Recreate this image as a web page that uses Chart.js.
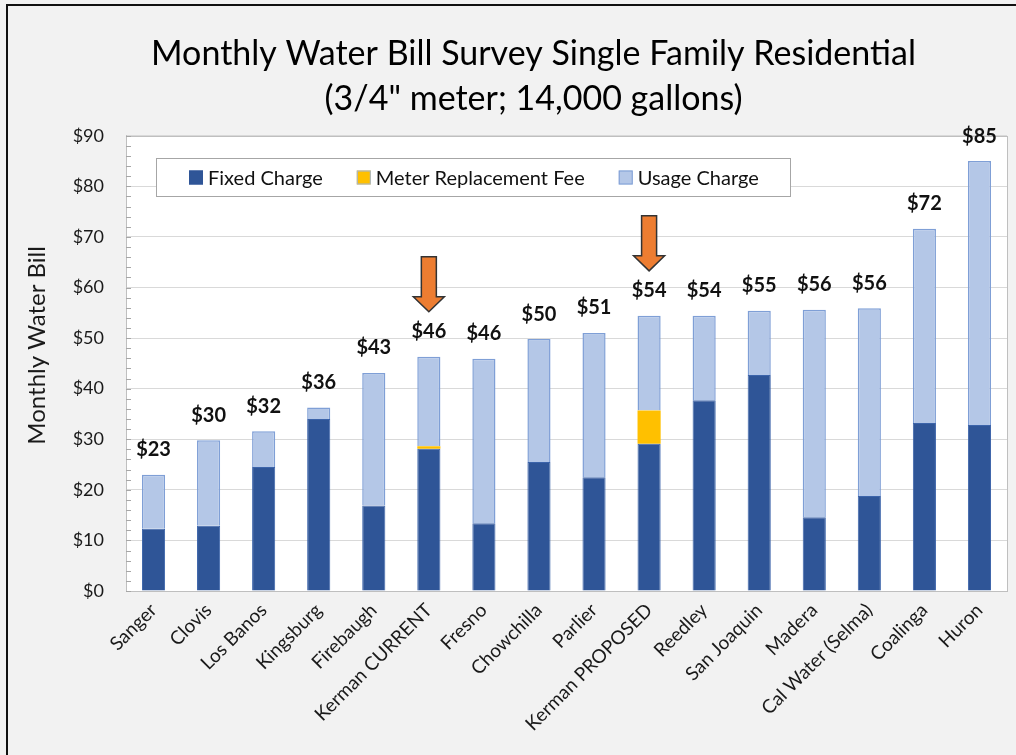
<!DOCTYPE html>
<html><head><meta charset="utf-8">
<script src="https://cdn.jsdelivr.net/npm/chart.js@4/dist/chart.umd.min.js"></script>
<style>
html,body{margin:0;padding:0;background:#f2f2f2;}
#wrap{position:relative;width:1016px;height:755px;overflow:hidden;background:#f2f2f2;}
#frame{position:absolute;left:6px;top:4px;width:1100px;height:800px;border-left:2px solid #111;border-top:2px solid #111;}
canvas{position:absolute;left:0;top:0;}
</style></head><body>
<div id="wrap"><div id="frame"></div><canvas id="c" width="1016" height="755"></canvas></div>
<script>
// ---- data ----
const categories = ['Sanger','Clovis','Los Banos','Kingsburg','Firebaugh','Kerman CURRENT','Fresno','Chowchilla','Parlier','Kerman PROPOSED','Reedley','San Joaquin','Madera','Cal Water (Selma)','Coalinga','Huron'];
const fixedCharge = [12.3, 12.9, 24.5, 34.0, 16.9, 28.1, 13.4, 25.5, 22.5, 29.1, 37.7, 42.7, 14.6, 18.8, 33.2, 32.8];
const meterFee    = [0, 0, 0, 0, 0, 0.5, 0, 0, 0, 6.6, 0, 0, 0, 0, 0, 0];
const usageCharge = [10.7, 16.9, 7.1, 2.3, 26.2, 17.7, 32.5, 24.3, 28.5, 18.7, 16.7, 12.7, 41.0, 37.1, 38.4, 52.2];
const seriesNames = ['Fixed Charge','Meter Replacement Fee','Usage Charge'];
const yTickValues = [0,10,20,30,40,50,60,70,80,90];
const markedCategories = ['Kerman CURRENT','Kerman PROPOSED'];
const chartTitle = ['Monthly Water Bill Survey Single Family Residential','(3/4" meter; 14,000 gallons)'];
const yAxisTitle = 'Monthly Water Bill';

const FONT = 'Lato, "Open Sans", sans-serif';
const totals = categories.map((c,i)=>Math.round((fixedCharge[i]+meterFee[i]+usageCharge[i])*100)/100);

const customDraw = {
  id:'customDraw',
  beforeDraw(chart){
    const {ctx, chartArea:a} = chart;
    ctx.save(); ctx.fillStyle='#ffffff';
    ctx.fillRect(a.left, a.top, a.right-a.left, a.bottom-a.top);
    ctx.restore();
  },
  afterDraw(chart){
    const {ctx, chartArea:a, scales:{x,y}} = chart;
    ctx.save();
    // plot border
    ctx.strokeStyle='#bfbfbf'; ctx.lineWidth=1;
    ctx.strokeRect(Math.round(a.left)+0.5, Math.round(a.top)+0.5, Math.round(a.right-a.left), Math.round(a.bottom-a.top));
    // minor ticks
    ctx.beginPath();
    for(let v=yTickValues[0]; v<=yTickValues[yTickValues.length-1]; v+=2){
      const py=Math.round(y.getPixelForValue(v))+0.5;
      ctx.moveTo(a.left, py); ctx.lineTo(a.left+5, py);
    }
    ctx.strokeStyle='#a6a6a6'; ctx.stroke();
    // y axis title
    ctx.save();
    ctx.translate(37, (a.top+a.bottom)/2-18); ctx.rotate(-Math.PI/2);
    ctx.font='24px '+FONT; ctx.fillStyle='#1a1a1a'; ctx.textAlign='center'; ctx.textBaseline='middle';
    ctx.fillText(yAxisTitle, 0, 0);
    ctx.restore();
    // total labels
    ctx.font='bold 20px '+FONT; ctx.fillStyle='#111'; ctx.textAlign='center'; ctx.textBaseline='middle';
    categories.forEach((c,i)=>{
      const px=x.getPixelForValue(i), py=y.getPixelForValue(totals[i]);
      ctx.fillText('$'+Math.round(totals[i]), px, py-25);
    });
    // arrows
    markedCategories.forEach(name=>{
      const i=categories.indexOf(name);
      const px=x.getPixelForValue(i), tip=y.getPixelForValue(totals[i])-45;
      ctx.beginPath();
      ctx.moveTo(px-7.5, tip-55); ctx.lineTo(px+7.5, tip-55); ctx.lineTo(px+7.5, tip-15);
      ctx.lineTo(px+15.5, tip-15); ctx.lineTo(px, tip); ctx.lineTo(px-15.5, tip-15);
      ctx.lineTo(px-7.5, tip-15); ctx.closePath();
      ctx.fillStyle='#ed7d31'; ctx.fill();
      ctx.strokeStyle='#333'; ctx.lineWidth=1.5; ctx.lineJoin='miter'; ctx.stroke();
    });
    // legend
    const lx=156.5, ly=158.5, lw=634, lh=38;
    ctx.fillStyle='#fff'; ctx.fillRect(lx,ly,lw,lh);
    ctx.strokeStyle='#a6a6a6'; ctx.lineWidth=1; ctx.strokeRect(lx,ly,lw,lh);
    ctx.font='20px '+FONT; ctx.textAlign='left'; ctx.textBaseline='middle';
    let cx=189; const cy=ly+lh/2;
    chart.data.datasets.forEach(ds=>{
      ctx.fillStyle=ds.backgroundColor; ctx.fillRect(cx, cy-7, 14, 14);
      ctx.strokeStyle=ds.legendBorder; ctx.lineWidth=1; ctx.strokeRect(cx+0.5, cy-6.5, 13, 13);
      ctx.fillStyle='#111'; ctx.fillText(ds.label, cx+19, cy+1);
      cx += 19 + ctx.measureText(ds.label).width + 34;
    });
    ctx.restore();
  }
};

const common = {barPercentage:0.42, categoryPercentage:1};
new Chart(document.getElementById('c'), {
  type:'bar',
  data:{
    labels:categories,
    datasets:[
      Object.assign({label:seriesNames[0], data:fixedCharge, backgroundColor:'#2f5597', borderColor:'#3c64aa', borderWidth:1, legendBorder:'#2f5597'}, common),
      Object.assign({label:seriesNames[1], data:meterFee, backgroundColor:'#ffc000', borderWidth:0, legendBorder:'#9db4dd'}, common),
      Object.assign({label:seriesNames[2], data:usageCharge, backgroundColor:'#b4c7e7', borderColor:'#7f9fd6', borderWidth:1.5, legendBorder:'#7f9fd6'}, common)
    ]
  },
  options:{
    responsive:false, animation:false, devicePixelRatio:1,
    layout:{padding:{left:60, right:9, top:0, bottom:0}},
    plugins:{
      legend:{display:false}, tooltip:{enabled:false},
      title:{display:true, text:chartTitle, color:'#000', font:{family:FONT, size:34, weight:'normal', lineHeight:1.32}, padding:{top:32, bottom:14}}
    },
    scales:{
      x:{stacked:true, grid:{display:false, drawTicks:false}, border:{display:true, color:'#bfbfbf'},
         ticks:{minRotation:45, maxRotation:45, autoSkip:false, padding:8, color:'#1a1a1a', font:{family:FONT, size:19}},
         afterFit(s){ s.height=164; }},
      y:{stacked:true, min:0, max:90,
         afterBuildTicks(s){ s.ticks = yTickValues.map(v=>({value:v})); },
         ticks:{callback:v=>'$'+v, padding:22, color:'#1a1a1a', font:{family:FONT, size:18}},
         grid:{color:'#d9d9d9', drawTicks:false}, border:{color:'#bfbfbf'},
         afterFit(s){ s.width=66; }}
    }
  },
  plugins:[customDraw]
});
</script>
</body></html>
